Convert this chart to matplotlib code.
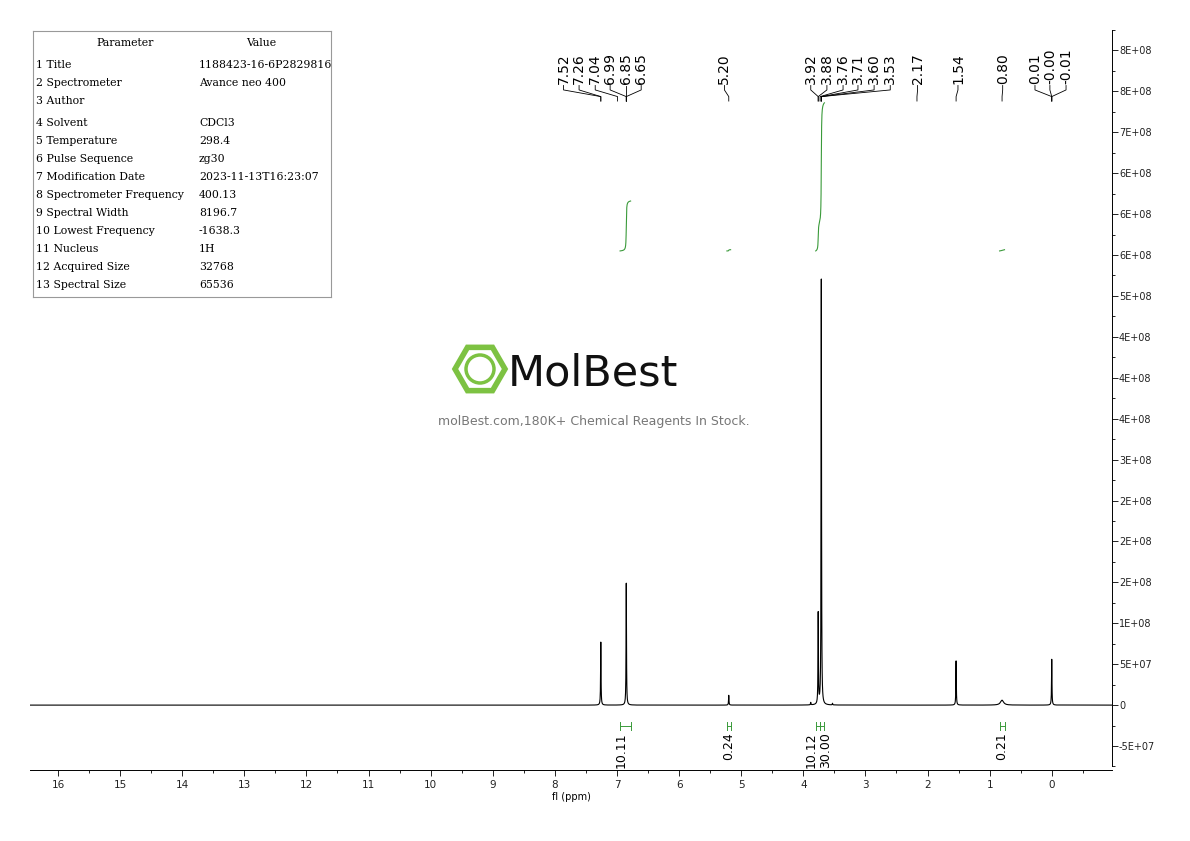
import numpy as np
import matplotlib.pyplot as plt
from matplotlib.patches import RegularPolygon, Circle
from matplotlib.ticker import MultipleLocator, FixedLocator

# ---- data ----
peak_ppm = [7.26, 6.85, 5.20, 3.88, 3.76, 3.71, 3.53, 1.54, 0.80, 0.00]
peak_height = [7.7e7, 1.49e8, 1.2e7, 3e6, 1.11e8, 5.2e8, 2e6, 5.4e7, 6e6, 5.6e7]
peak_width = [0.004, 0.004, 0.004, 0.004, 0.004, 0.004, 0.004, 0.004, 0.03, 0.004]

label_vals = ["7.52", "7.26", "7.04", "6.99", "6.85", "6.65", "5.20",
              "3.92", "3.88", "3.76", "3.71", "3.60", "3.53", "2.17", "1.54",
              "0.80", "0.01", "-0.00", "-0.01"]
label_ppm_pos = [7.86, 7.61, 7.35, 7.11, 6.85, 6.61, 5.27,
                 3.88, 3.62, 3.36, 3.12, 2.86, 2.60, 2.16, 1.51,
                 0.79, 0.27, 0.03, -0.23]
label_target = [7.26, 7.26, 6.99, 6.85, 6.85, 6.85, 5.20,
                3.76, 3.76, 3.73, 3.71, 3.71, 3.71, 2.17, 1.54,
                0.80, 0.00, 0.00, 0.00]

integ_ranges = [(6.95, 6.78), (5.23, 5.17), (3.80, 3.73), (3.73, 3.66), (0.84, 0.76)]
integ_labels = ["10.11", "0.24", "10.12", "30.00", "0.21"]
integ_label_ppm = [6.93, 5.20, 3.88, 3.64, 0.80]

params = ["Title", "Spectrometer", "Author", "Solvent", "Temperature", "Pulse Sequence",
          "Modification Date", "Spectrometer Frequency", "Spectral Width",
          "Lowest Frequency", "Nucleus", "Acquired Size", "Spectral Size"]
values = ["1188423-16-6P2829816", "Avance neo 400", "", "CDCl3", "298.4", "zg30",
          "2023-11-13T16:23:07", "400.13", "8196.7", "-1638.3", "1H", "32768", "65536"]

ytick_vals = np.arange(-5e7, 8.01e8, 5e7)
ytick_labels = ["-5E+07", "0", "5E+07", "1E+08", "2E+08", "2E+08", "2E+08", "3E+08",
                "4E+08", "4E+08", "4E+08", "5E+08", "6E+08", "6E+08", "6E+08",
                "7E+08", "8E+08", "8E+08"]

# ---- spectrum ----
x = np.arange(-0.97, 16.45, 0.0005)
y = np.zeros_like(x)
for p, h, w in zip(peak_ppm, peak_height, peak_width):
    y += h / (1 + ((x - p) / w) ** 2)

fig = plt.figure(figsize=(11.9, 8.41), dpi=100)
ax = fig.add_axes([30/1190, 1-770/841, 1082/1190, 740/841])
ax.plot(x, y, color="black", lw=0.8)
ax.set_xlim(16.45, -0.97)
ax.set_ylim(-7.93e7, 8.25e8)

for s in ["top", "left"]:
    ax.spines[s].set_visible(False)
ax.spines["right"].set_bounds(-7.5e7, 8.25e8)
ax.yaxis.tick_right()
ax.yaxis.set_major_locator(FixedLocator(ytick_vals))
ax.set_yticklabels(ytick_labels, fontsize=7, color="#222222")
ax.yaxis.set_minor_locator(MultipleLocator(2.5e7))
ax.tick_params(axis="y", which="major", length=4, width=0.6, pad=1)
ax.tick_params(axis="y", which="minor", length=2.5, width=0.6)
ax.set_xticks(np.arange(0, 17, 1))
ax.xaxis.set_minor_locator(MultipleLocator(0.5))
ax.set_xticklabels([str(i) for i in range(17)], fontsize=7.5, color="#222222")
ax.tick_params(axis="x", which="major", length=4, width=0.6)
ax.tick_params(axis="x", which="minor", length=2.5, width=0.6)
ax.set_xlabel("fl (ppm)", fontsize=7, labelpad=1)
for s in ax.spines.values():
    s.set_linewidth(0.7)

# integrals (curves)
green = "#3a9a3a"
dx = 0.0005
base = 5.55e8
for (a, b, amp) in [(6.95, 6.78, 6.1e7), (3.80, 3.66, 1.81e8),
                    (5.23, 5.17, 1.5e6), (0.84, 0.76, 1.5e6)]:
    m = (x <= a) & (x >= b)
    xs = x[m][::-1]
    c = np.cumsum(y[m][::-1]) * dx
    ax.plot(xs, base + c / c[-1] * amp, color=green, lw=0.8)

# integral marks and labels
for (a, b), lab, lp in zip(integ_ranges, integ_labels, integ_label_ppm):
    ax.plot([a, b], [-2.6e7, -2.6e7], color=green, lw=0.7)
    ax.plot([a, a], [-3.1e7, -2.1e7], color=green, lw=0.7)
    ax.plot([b, b], [-3.1e7, -2.1e7], color=green, lw=0.7)
    ax.text(lp, -3.3e7, lab, rotation=90, ha="center", va="top", fontsize=9)

# peak labels
trans = ax.get_xaxis_transform()
for v, lx, tx in zip(label_vals, label_ppm_pos, label_target):
    ax.text(lx, 0.927, v, rotation=90, ha="center", va="bottom", fontsize=10, transform=trans)
    ax.plot([lx, lx, tx, tx], [0.925, 0.919, 0.91, 0.904], color="black", lw=0.6,
            transform=trans, clip_on=False)

# parameter table
tax = fig.add_axes([33/1190, 1-297/841, 298/1190, 266/841])
tax.set_xlim(0, 298); tax.set_ylim(266, 0)
tax.set_xticks([]); tax.set_yticks([])
for s in tax.spines.values():
    s.set_color("#999999"); s.set_linewidth(0.8)
tf = dict(fontsize=7.8, family="DejaVu Serif", va="center")
tax.text(92, 12, "Parameter", ha="center", **tf)
tax.text(228, 12, "Value", ha="center", **tf)
rowy = [34, 52, 70, 92, 110, 128, 146, 164, 182, 200, 218, 236, 254]
for i, (p, v, ry) in enumerate(zip(params, values, rowy)):
    tax.text(3, ry, f"{i+1} {p}", ha="left", **tf)
    tax.text(166, ry, v, ha="left", **tf)

# watermark
wax = fig.add_axes([440/1190, 1-440/841, 320/1190, 100/841])
wax.set_xlim(440, 760); wax.set_ylim(440, 340); wax.axis("off")
wax.add_patch(RegularPolygon((480, 369), 6, radius=25, orientation=np.pi/6, fill=False,
                             ec="#7dc242", lw=4))
wax.add_patch(Circle((480, 369), 14, fill=False, ec="#7dc242", lw=2.5))
wax.text(508, 374, "MolBest", fontsize=31, va="center", ha="left", color="#111111")
wax.text(594, 421, "molBest.com,180K+ Chemical Reagents In Stock.", fontsize=9,
         color="#777777", ha="center", va="center")

fig.savefig("out.png", dpi=100)
